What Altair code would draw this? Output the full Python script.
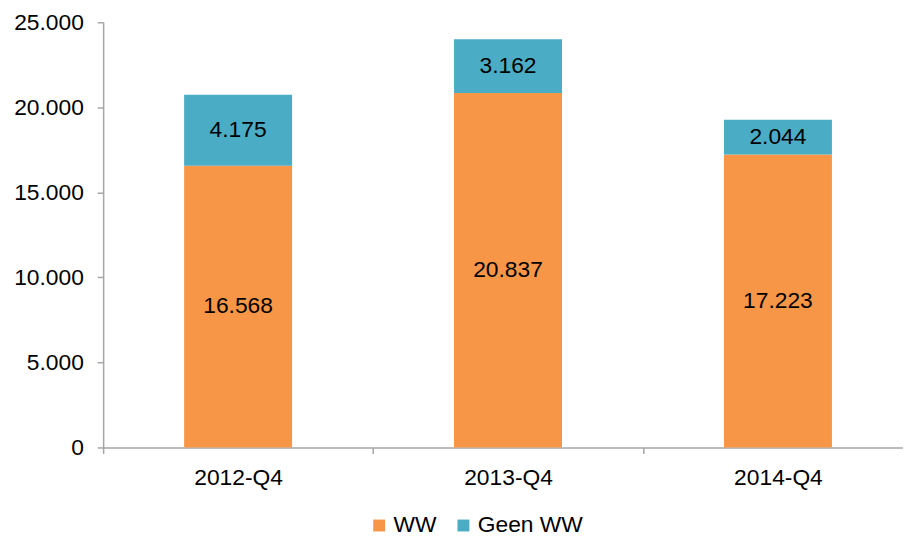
import altair as alt
import pandas as pd

quarters = ["2012-Q4", "2013-Q4", "2014-Q4"]
ww = [16568, 20837, 17223]
geen_ww = [4175, 3162, 2044]
series = ["WW", "Geen WW"]
colors = ["#F79646", "#4BACC6"]

rows = []
for q, a, b in zip(quarters, ww, geen_ww):
    rows.append({"quarter": q, "series": "WW", "value": a, "ord": 0})
    rows.append({"quarter": q, "series": "Geen WW", "value": b, "ord": 1})
df = pd.DataFrame(rows)

FONT = "Liberation Sans"
FS = 23

base = alt.Chart(df).transform_stack(
    stack="value", as_=["y0", "y1"], groupby=["quarter"],
    sort=[alt.SortField("ord", order="ascending")]
).transform_calculate(
    mid="(datum.y0 + datum.y1) / 2",
    lbl="replace(format(datum.value, ','), /,/g, '.')"
)

x = alt.X("quarter:N", sort=quarters, title=None,
          scale=alt.Scale(paddingInner=0, paddingOuter=0),
          axis=alt.Axis(labelAngle=0, tickBand="extent", labelFont=FONT,
                        labelFontSize=FS, labelColor="#000000",
                        domainColor="#A6A6A6", tickColor="#A6A6A6",
                        domainWidth=1.5, tickWidth=1.5, tickSize=6,
                        labelPadding=13, grid=False))

bars = base.mark_bar(width=alt.RelativeBandSize(0.4)).encode(
    y=alt.Y("y0:Q", title=None,
            scale=alt.Scale(domain=[0, 25000], nice=False),
            axis=alt.Axis(values=[0, 5000, 10000, 15000, 20000, 25000],
                          labelExpr="replace(format(datum.value, ','), /,/g, '.')",
                          labelFont=FONT, labelFontSize=FS, labelColor="#000000",
                          domainColor="#A6A6A6", tickColor="#A6A6A6",
                          domainWidth=1.5, tickWidth=1.5, tickSize=6,
                          labelPadding=14, grid=False)),
    y2="y1:Q",
    color=alt.Color("series:N", scale=alt.Scale(domain=series, range=colors),
                    legend=alt.Legend(title=None, orient="none", direction="horizontal",
                                      legendX=267, legendY=496,
                                      symbolType="square", symbolSize=144,
                                      symbolStrokeWidth=0, labelFont=FONT,
                                      labelFontSize=FS, labelColor="#000000",
                                      labelOffset=3, columnPadding=15, padding=0)),
)

texts = base.mark_text(font=FONT, fontSize=FS, color="#000000", baseline="middle").encode(
    y=alt.Y("mid:Q"),
    text="lbl:N",
)

chart = alt.layer(bars, texts).encode(x=x).properties(
    width=817, height=429,
    autosize=alt.AutoSizeParams(type="none"),
    padding={"left": 96, "top": 12, "right": -10, "bottom": 91},
).configure_view(stroke=None)

chart.save("out.html", embed_options={"renderer": "svg", "actions": False})
